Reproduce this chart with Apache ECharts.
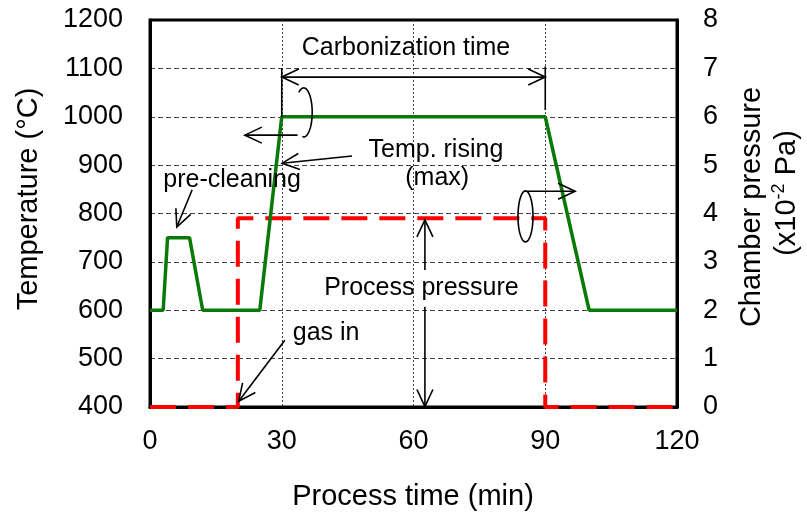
<!DOCTYPE html>
<html><head><meta charset="utf-8">
<script src="https://cdn.jsdelivr.net/npm/echarts@6/dist/echarts.min.js"></script>
<style>html,body{margin:0;padding:0;background:#fff}#c{width:807px;height:515px}</style>
</head><body><div id="c"></div>
<script>
// ---- data ----
const tempTime  = [0, 3, 4, 9, 12, 25, 30, 90, 100, 120];
const tempValue = [600, 600, 750, 750, 600, 600, 1000, 1000, 600, 600];
const pressTime  = [0, 20, 20, 90, 90, 120];
const pressValue = [0, 0, 3.9, 3.9, 0, 0];
const xTicks = [0, 30, 60, 90, 120];
const tempTicks = [400, 500, 600, 700, 800, 900, 1000, 1100, 1200];
const pressTicks = [0, 1, 2, 3, 4, 5, 6, 7, 8];

const F = '"Liberation Sans", Arial, sans-serif';
const chart = echarts.init(document.getElementById('c'), null, {renderer: 'canvas'});

const tempData = tempTime.map((t, i) => [t, tempValue[i]]);
const pressData = pressTime.map((t, i) => [t, pressValue[i]]);
const plain = v => String(v);

chart.setOption({
  animation: false,
  backgroundColor: '#fff',
  grid: {left: 150, right: 130, top: 20, bottom: 108, containLabel: false, outerBoundsMode: 'none',
         show: true, borderColor: '#000', borderWidth: 3, backgroundColor: 'transparent'},
  xAxis: {
    type: 'value', min: xTicks[0], max: xTicks[xTicks.length - 1], interval: 30,
    axisLine: {show: true, lineStyle: {color: '#000', width: 3}},
    axisTick: {show: false},
    axisLabel: {color: '#000', fontSize: 27, fontFamily: F, margin: 21, formatter: plain},
    splitLine: {show: true, showMinLine: false, showMaxLine: false,
                lineStyle: {color: '#444', width: 1, type: [2, 2]}}
  },
  yAxis: [{
    type: 'value', min: tempTicks[0], max: tempTicks[tempTicks.length - 1], interval: 100,
    axisLine: {show: true, lineStyle: {color: '#000', width: 3}},
    axisTick: {show: false},
    axisLabel: {color: '#000', fontSize: 27, fontFamily: F, margin: 27, formatter: plain},
    splitLine: {show: true, showMinLine: false, showMaxLine: false,
                lineStyle: {color: '#444', width: 1, type: [5, 3]}}
  }, {
    type: 'value', min: pressTicks[0], max: pressTicks[pressTicks.length - 1], interval: 1,
    position: 'right',
    axisLine: {show: true, lineStyle: {color: '#000', width: 3}},
    axisTick: {show: false},
    axisLabel: {color: '#000', fontSize: 27, fontFamily: F, margin: 26, formatter: plain},
    splitLine: {show: false}
  }],
  series: [{
    name: 'pressure', type: 'line', yAxisIndex: 1, data: pressData,
    symbol: 'none', clip: false, z: 3,
    lineStyle: {color: '#ff0000', width: 4, type: [26, 12]}
  }, {
    name: 'temperature', type: 'line', yAxisIndex: 0, data: tempData,
    symbol: 'none', clip: false, z: 4,
    lineStyle: {color: '#087a08', width: 3.5}
  }]
});

// ---- annotations (positioned in data space) ----
function P(t, v) { return chart.convertToPixel({xAxisIndex: 0, yAxisIndex: 0}, [t, v]); }
const LW = 1.6;
function seg(a, b) {
  return {type: 'line', silent: true, z: 10, shape: {x1: a[0], y1: a[1], x2: b[0], y2: b[1]},
          style: {stroke: '#000', lineWidth: LW}};
}
function head(tip, from) {
  const dx = from[0] - tip[0], dy = from[1] - tip[1];
  const L = Math.hypot(dx, dy), ux = dx / L, uy = dy / L;
  const len = 17, w = 8;
  const b = [tip[0] + ux * len, tip[1] + uy * len];
  return {type: 'polyline', silent: true, z: 10,
          shape: {points: [[b[0] - uy * w, b[1] + ux * w], tip, [b[0] + uy * w, b[1] - ux * w]]},
          style: {stroke: '#000', fill: null, lineWidth: LW}};
}
function arrow(from, tip) { return [seg(from, tip), head(tip, from)]; }
function ell(c, rx, ry, a0, a1) {
  const pts = [];
  for (let a = a0; a <= a1; a += 4) {
    const r = a * Math.PI / 180;
    pts.push([c[0] + rx * Math.cos(r), c[1] + ry * Math.sin(r)]);
  }
  return {type: 'polyline', silent: true, z: 10, shape: {points: pts},
          style: {stroke: '#000', fill: null, lineWidth: LW}};
}
function txt(p, s, size) {
  return {type: 'text', silent: true, z: 11, x: p[0], y: p[1],
          style: {text: s, fontSize: size || 25, fontFamily: F, fill: '#000',
                  align: 'center', verticalAlign: 'middle'}};
}

const g = [];
// Carbonization time
g.push(txt(P(58.3, 1142), 'Carbonization time'));
const cA = P(30, 1082), cB = P(90, 1082);
g.push(seg(cA, cB), head(cA, cB), head(cB, cA));
g.push(seg(P(30, 1100), P(30, 999)));
g.push(seg(P(90, 1104), P(90, 1014)));
// left rotation ellipse + arrow
const e1 = P(35.0, 1009);
g.push(ell(e1, 8.5, 24.5, -125, 100));
g.push(...arrow(P(33.6, 962), P(21.6, 962)));
// Temp. rising (max)
g.push(txt(P(65.1, 932), 'Temp. rising'));
g.push(txt(P(65.4, 874), '(max)'));
g.push(...arrow(P(46.0, 919), P(30.1, 904)));
// pre-cleaning
g.push(txt(P(18.7, 869), 'pre-cleaning'));
g.push(...arrow(P(9.6, 849), P(6.1, 772)));
// right rotation ellipse + arrow
const e2 = P(85.5, 794);
g.push(ell(e2, 7.5, 25.5, -80, 276));
g.push(...arrow(P(85.4, 846), P(96.8, 846)));
// Process pressure
g.push(txt(P(61.8, 646), 'Process pressure'));
g.push(...arrow(P(62.6, 683), P(62.6, 787)));
g.push(...arrow(P(62.6, 607), P(62.6, 401)));
// gas in
g.push(txt(P(40.1, 553), 'gas in'));
g.push(...arrow(P(30.7, 538), P(20.2, 412)));

// axis names
g.push({type: 'text', silent: true, x: 413, y: 497,
        style: {text: 'Process time (min)', fontSize: 29, fontFamily: F, fill: '#000', align: 'center', verticalAlign: 'middle'}});
g.push({type: 'text', silent: true, x: 29, y: 199, rotation: Math.PI / 2,
        style: {text: 'Temperature (°C)', fontSize: 29, fontFamily: F, fill: '#000', align: 'center', verticalAlign: 'middle'}});
g.push({type: 'text', silent: true, x: 752, y: 207, rotation: Math.PI / 2,
        style: {text: 'Chamber pressure', fontSize: 29, fontFamily: F, fill: '#000', align: 'center', verticalAlign: 'middle'}});
g.push({type: 'text', silent: true, x: 787, y: 193, rotation: Math.PI / 2,
        style: {text: '(x10{sup|-2} Pa)', fontSize: 29, fontFamily: F, fill: '#000', align: 'center', verticalAlign: 'middle',
                lineHeight: 34,
                rich: {sup: {fontSize: 18, fontFamily: F, fill: '#000', lineHeight: 18, verticalAlign: 'top'}}}});

chart.setOption({graphic: {elements: g}});
</script>
</body></html>
